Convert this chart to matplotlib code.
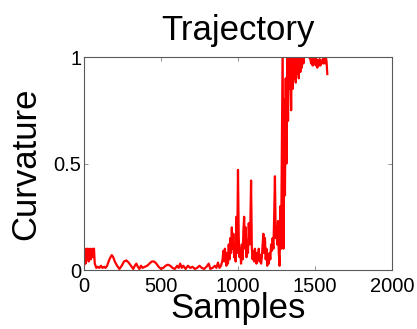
import matplotlib
matplotlib.use("Agg")
import matplotlib.pyplot as plt

plt.rcParams['font.family'] = ['Liberation Sans', 'DejaVu Sans']

title = "Trajectory"
xlabel = "Samples"
ylabel = "Curvature"
xticks = [0, 500, 1000, 1500, 2000]
yticks = [0, 0.5, 1]
yticklabels = ["0", "0.5", "1"]

samples = [
    0, 5, 10, 15, 20, 25, 30, 35, 40, 45, 50, 55, 60, 65, 70, 75, 80,
    90, 100, 110, 120, 130, 140, 150, 165, 180, 190, 200, 215, 230, 245, 260, 275,
    290, 305, 320, 330, 340, 350, 360, 370, 380, 395, 410, 425, 440, 455, 470, 485,
    500, 515, 530, 545, 560, 575, 590, 605, 615, 625, 635, 645, 660, 675, 690, 705,
    720, 735, 750, 765, 780, 795, 810, 820, 835, 850, 860, 870, 880, 890, 900,
    905, 910, 915, 920, 925, 930, 935, 940, 945, 950, 955, 960, 965, 970, 975, 980,
    985, 990, 995, 1000, 1005, 1010, 1015, 1020, 1025, 1030, 1035, 1040, 1045, 1050,
    1055, 1060, 1065, 1070, 1075, 1080, 1085, 1090, 1095, 1100, 1105, 1110, 1115,
    1120, 1125, 1130, 1135, 1140, 1145, 1150, 1155, 1160, 1165, 1170, 1175, 1180,
    1185, 1190, 1195, 1200, 1205, 1210, 1215, 1220, 1225, 1230, 1235, 1240, 1245,
    1250, 1255, 1260, 1265, 1270, 1275, 1280, 1285, 1290, 1295, 1300, 1305, 1310,
    1315, 1320, 1325, 1330, 1335, 1340, 1345, 1350, 1355, 1360, 1365, 1370, 1375,
    1380, 1385, 1390, 1395, 1400, 1405, 1410, 1415, 1420, 1425, 1430, 1440, 1450,
    1460, 1470, 1475, 1480, 1485, 1490, 1495, 1500, 1505, 1510, 1515, 1520, 1525,
    1530, 1535, 1540, 1545, 1550, 1555, 1560, 1565, 1570, 1575, 1580,
]
curvature = [
    0.02, 0.09, 0.03, 0.10, 0.06, 0.10, 0.04, 0.08, 0.10, 0.05, 0.09, 0.10, 0.06, 0.10, 0.03, 0.02, 0.01,
    0.015, 0.01, 0.02, 0.01, 0.015, 0.01, 0.02, 0.05, 0.07, 0.06, 0.04, 0.02, 0.005, 0.02, 0.04, 0.045,
    0.035, 0.02, 0.005, 0.02, 0.03, 0.015, 0.005, 0.02, 0.01, 0.015, 0.02, 0.03, 0.04, 0.04, 0.03, 0.015,
    0.005, 0.01, 0.02, 0.025, 0.02, 0.01, 0.005, 0.02, 0.01, 0.03, 0.01, 0.02, 0.005, 0.02, 0.01, 0.015,
    0.005, 0.01, 0.02, 0.01, 0.005, 0.015, 0.03, 0.005, 0.01, 0.02, 0.01, 0.035, 0.01, 0.02, 0.05,
    0.09, 0.04, 0.10, 0.06, 0.02, 0.08, 0.03, 0.12, 0.05, 0.15, 0.08, 0.20, 0.10, 0.17, 0.06, 0.12,
    0.04, 0.25, 0.08, 0.47, 0.15, 0.06, 0.10, 0.03, 0.12, 0.05, 0.18, 0.25, 0.10, 0.20,
    0.06, 0.14, 0.08, 0.22, 0.12, 0.20, 0.42, 0.10, 0.05, 0.09, 0.04, 0.10, 0.06,
    0.03, 0.08, 0.05, 0.10, 0.04, 0.07, 0.03, 0.06, 0.12, 0.17, 0.08, 0.15, 0.05,
    0.10, 0.02, 0.06, 0.03, 0.08, 0.05, 0.12, 0.09, 0.15, 0.10, 0.25, 0.44, 0.15,
    0.20, 0.12, 0.23, 0.08, 0.02, 0.30, 0.10, 0.60, 1.05, 0.10, 0.80, 0.35, 0.90,
    0.50, 1.05, 0.70, 1.05, 0.85, 1.05, 0.75, 1.05, 0.85, 1.00, 0.90, 1.05, 0.88,
    1.05, 0.92, 1.00, 0.90, 1.05, 0.93, 1.02, 0.95, 1.05, 0.97, 1.05, 1.02, 1.05,
    1.00, 0.99, 0.97, 1.00, 0.96, 0.99, 0.97, 1.00, 0.96, 0.99, 0.95, 0.98, 0.96,
    0.99, 0.96, 0.98, 0.97, 0.99, 0.97, 1.00, 0.97, 1.00, 0.98, 0.92,
]

fig = plt.figure(figsize=(4.17, 3.29), dpi=100)
ax = fig.add_axes([0.2014, 0.1793, 0.7386, 0.6474])
ax.plot(samples, curvature, color='#ff0000', linewidth=1.6)
ax.set_xlim(0, 2000)
ax.set_ylim(0, 1)
ax.set_xticks(xticks)
ax.set_yticks(yticks)
ax.set_yticklabels(yticklabels)
ax.tick_params(direction='in', length=3, width=0.6, color='0.5', labelsize=14.5,
               top=True, right=True)
ax.tick_params(axis='x', pad=5)
ax.tick_params(axis='y', pad=2)
for sp in ax.spines.values():
    sp.set_color('0.35')
    sp.set_linewidth(0.8)
ax.set_title(title, fontsize=25, pad=12)
ax.set_xlabel(xlabel, fontsize=25, labelpad=-3)
ax.set_ylabel(ylabel, fontsize=25, labelpad=8)

fig.savefig("out.png", dpi=100)
